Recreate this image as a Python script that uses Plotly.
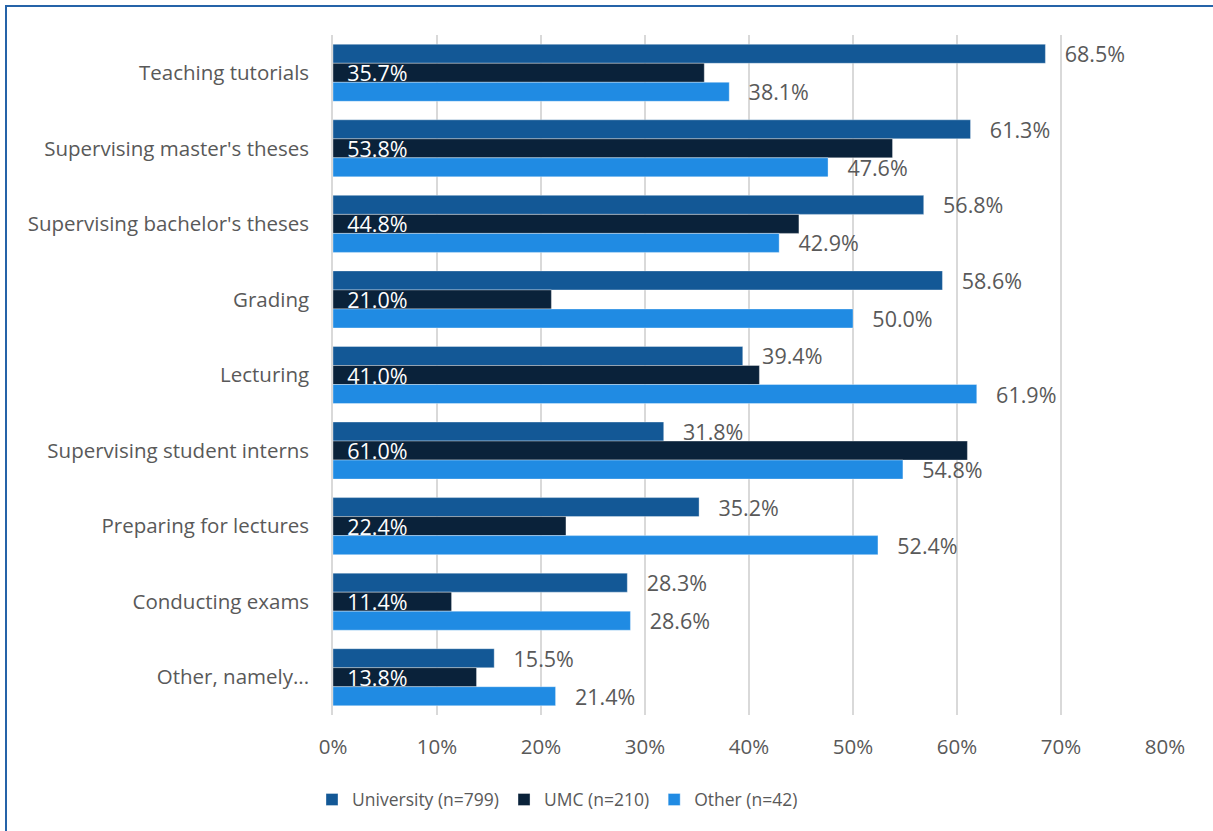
import plotly.graph_objects as go

categories = [
    "Teaching tutorials",
    "Supervising master's theses",
    "Supervising bachelor's theses",
    "Grading",
    "Lecturing",
    "Supervising student interns",
    "Preparing for lectures",
    "Conducting exams",
    "Other, namely...",
]
university = [68.5, 61.3, 56.8, 58.6, 39.4, 31.8, 35.2, 28.3, 15.5]
umc = [35.7, 53.8, 44.8, 21.0, 41.0, 61.0, 22.4, 11.4, 13.8]
other = [38.1, 47.6, 42.9, 50.0, 61.9, 54.8, 52.4, 28.6, 21.4]

x_ticks = [0, 10, 20, 30, 40, 50, 60, 70, 80]

FONT = "Open Sans, Liberation Sans, sans-serif"
GREY = "#595959"
LABEL_SIZE = 21.5
EDGE = dict(color="rgba(255,255,255,0.35)", width=1)

fig = go.Figure()
fig.add_trace(go.Bar(
    name="University (n=799)", y=categories, x=university, orientation="h",
    marker=dict(color="#135896", line=EDGE),
    texttemplate="\u2002 %{x:.1f}%", textposition="outside",
    outsidetextfont=dict(family=FONT, size=LABEL_SIZE, color=GREY),
    constraintext="none", cliponaxis=False,
))
fig.add_trace(go.Bar(
    name="UMC (n=210)", y=categories, x=umc, orientation="h",
    marker=dict(color="#0A223A", line=EDGE),
    texttemplate="  %{x:.1f}%", textposition="inside", insidetextanchor="start",
    insidetextfont=dict(family=FONT, size=LABEL_SIZE, color="white"),
    constraintext="none",
))
fig.add_trace(go.Bar(
    name="Other (n=42)", y=categories, x=other, orientation="h",
    marker=dict(color="#208BE3", line=EDGE),
    texttemplate="\u2002 %{x:.1f}%", textposition="outside",
    outsidetextfont=dict(family=FONT, size=LABEL_SIZE, color=GREY),
    constraintext="none", cliponaxis=False,
))

fig.update_layout(
    width=1213, height=831,
    barmode="group", bargap=0.245, bargroupgap=0,
    paper_bgcolor="white", plot_bgcolor="white",
    margin=dict(l=333, r=48, t=35, b=116, autoexpand=False),
    font=dict(family=FONT, size=20, color=GREY),
    xaxis=dict(
        range=[0, 80], tickvals=x_ticks,
        ticktext=[f"{v}%" for v in x_ticks],
        showgrid=True, gridcolor="#d9d9d9", gridwidth=1.5,
        zeroline=False, showline=False, ticks="",
        ticklabelstandoff=17,
        tickfont=dict(family=FONT, size=20.5, color=GREY),
    ),
    yaxis=dict(
        autorange="reversed", showgrid=False, ticks="",
        showline=True, linecolor="#d9d9d9", linewidth=1.5,
        ticklabelstandoff=18,
        tickfont=dict(family=FONT, size=20.5, color=GREY),
    ),
    legend=dict(
        orientation="h", x=(312 - 333) / 832, xanchor="left",
        y=-0.098, yanchor="top",
        font=dict(family=FONT, size=17.5, color=GREY),
        traceorder="normal", itemwidth=30,
    ),
    shapes=[dict(
        type="rect", xref="paper", yref="paper",
        x0=(6 - 333) / 832, x1=1.2, y0=-0.3, y1=(715 - 6) / 680,
        line=dict(color="#2563A8", width=2), fillcolor="rgba(0,0,0,0)",
        layer="below",
    )],
)

fig.write_html("out.html")
